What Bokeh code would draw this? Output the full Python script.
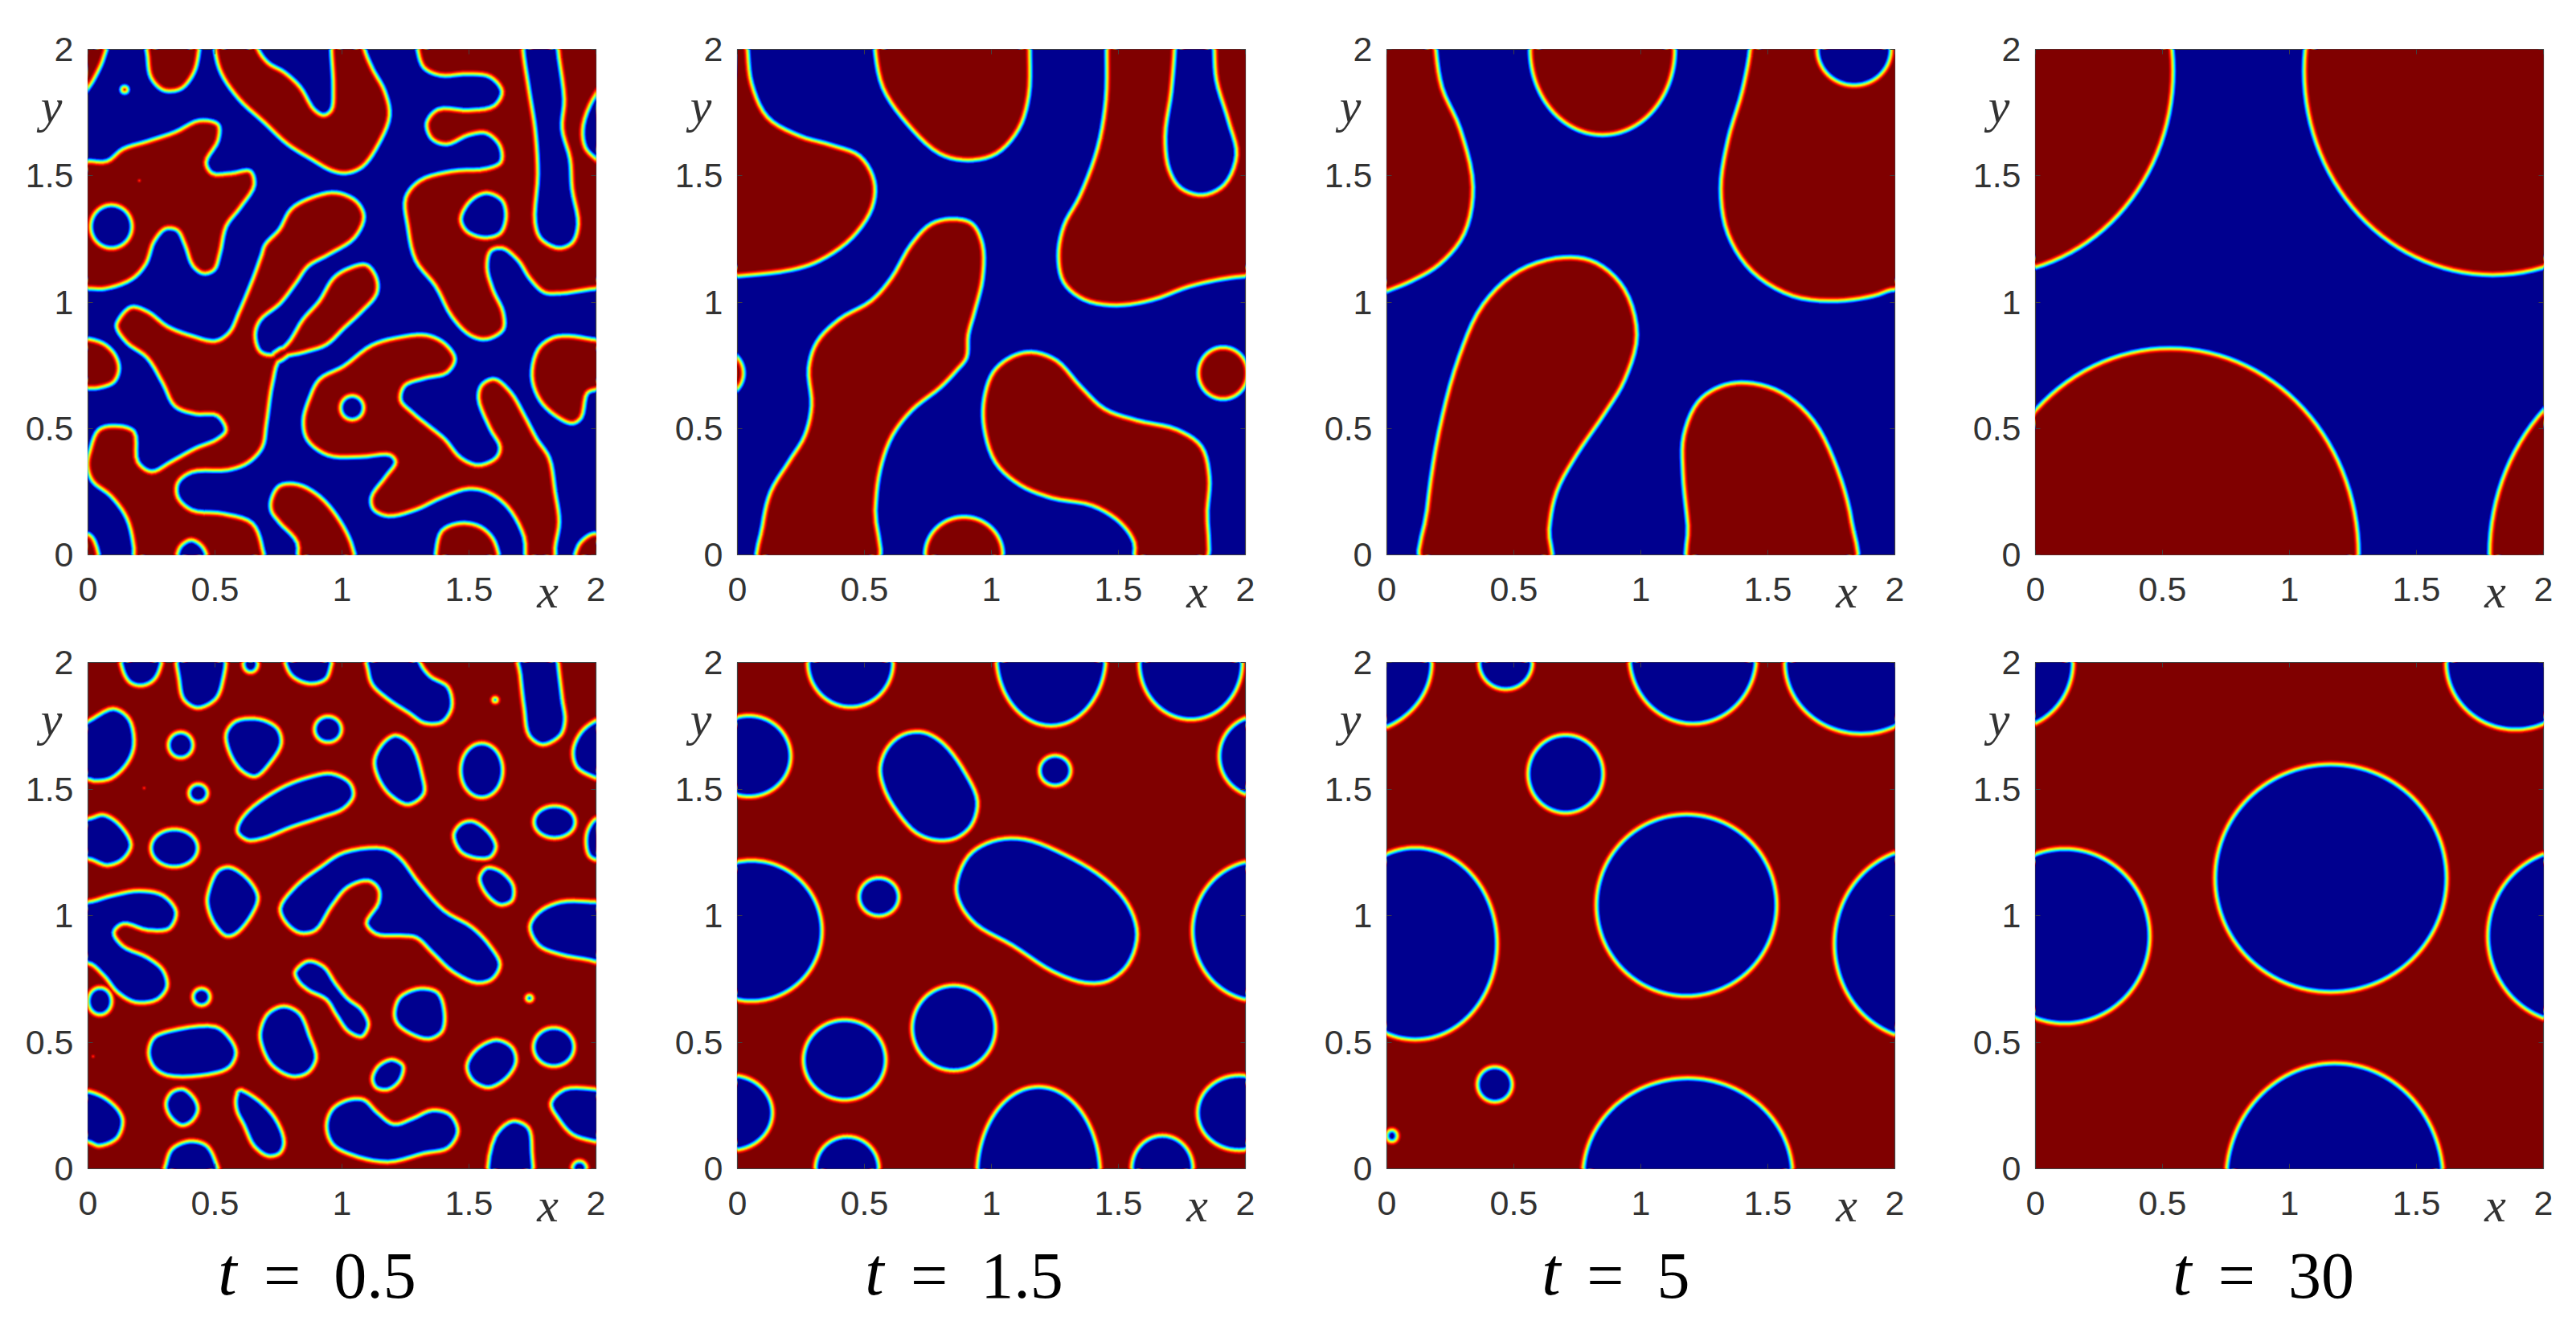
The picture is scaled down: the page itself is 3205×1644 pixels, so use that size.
from bokeh.embed import file_html
from bokeh.layouts import column, row
from bokeh.models import FixedTicker, LinearAxis
from bokeh.plotting import figure
from bokeh.resources import INLINE
import numpy as np

# ------- values (domain units, 0..2 on both axes) -------
TICKS = [0, 0.5, 1, 1.5, 2]
TICK_LABELS = ["0", "0.5", "1", "1.5", "2"]
TIMES = ["0.5", "1.5", "5", "30"]

# t = 0.5, upper row: red domains, blue holes
A_RED = [
 [(-.06,2.06),(.075,2.06),(.06,1.97),(.03,1.9),(0,1.85),(-.06,1.78)],
 [(.237,2.06),(.237,1.97),(.25,1.89),(.29,1.845),(.325,1.837),(.37,1.85),(.415,1.91),(.434,1.99),(.434,2.06)],
 [(.502,2.06),(.502,2.0),(.526,1.908),(.597,1.804),(.692,1.716),(.787,1.627),(.882,1.567),(.96,1.523),(1.016,1.513),(1.079,1.538),(1.142,1.627),(1.185,1.738),(1.166,1.834),(1.118,1.923),(1.087,2.0),(1.08,2.06),(.96,2.06),(.96,2.0),(.968,1.849),(.96,1.76),(.929,1.738),(.889,1.76),(.834,1.849),(.771,1.908),(.708,1.945),(.668,2.0),(.66,2.06)],
 [(1.295,2.06),(1.30,2.0),(1.324,1.93),(1.387,1.90),(1.498,1.905),(1.585,1.893),(1.632,1.834),(1.6,1.775),(1.498,1.757),(1.379,1.76),(1.336,1.708),(1.355,1.649),(1.411,1.627),(1.498,1.664),(1.569,1.671),(1.624,1.619),(1.627,1.553),(1.569,1.526),(1.434,1.516),(1.308,1.479),(1.253,1.412),(1.261,1.301),(1.292,1.167),(1.371,1.064),(1.434,.945),(1.506,.871),(1.569,.856),(1.632,.893),(1.632,.96),(1.592,1.049),(1.569,1.138),(1.584,1.204),(1.632,1.216),(1.695,1.167),(1.743,1.093),(1.798,1.041),(1.861,1.037),(2.0,1.056),(2.06,1.056),(2.06,2.06)],
 [(0,1.556),(.076,1.556),(.139,1.604),(.234,1.634),(.344,1.671),(.439,1.716),(.51,1.701),(.51,1.641),(.463,1.553),(.488,1.508),(.566,1.508),(.637,1.516),(.652,1.464),(.597,1.375),(.542,1.301),(.518,1.197),(.495,1.13),(.455,1.116),(.415,1.145),(.384,1.227),(.353,1.286),(.305,1.293),(.258,1.241),(.226,1.153),(.171,1.093),(.068,1.056),(0,1.056),(-.06,1.056),(-.06,1.556)],
 [(.123,.93),(.171,.978),(.234,.96),(.313,.901),(.408,.864),(.502,.844),(.558,.879),(.597,.96),(.652,1.093),(.684,1.182),(.7,1.227),(.755,1.286),(.802,1.367),(.882,1.412),(.976,1.431),(1.055,1.397),(1.084,1.338),(1.047,1.256),(.945,1.19),(.866,1.145),(.818,1.079),(.755,.997),(.676,.93),(.656,.871),(.676,.804),(.723,.79),(.787,.834),(.848,.93),(.913,1.004),(.968,1.093),(1.024,1.13),(1.095,1.145),(1.134,1.093),(1.134,1.034),(1.071,.96),(1.008,.901),(.937,.834),(.85,.804),(.755,.775),(.724,.679),(.7,.516),(.684,.427),(.629,.367),(.55,.338),(.408,.33),(.352,.286),(.352,.227),(.408,.175),(.534,.16),(.645,.123),(.684,.027),(.687,-.06),(.186,-.06),(.183,.027),(.155,.145),(.092,.234),(.02,.293),(.0,.353),(.01,.412),(.044,.493),(.107,.508),(.179,.486),(.194,.367),(.25,.327),(.329,.367),(.423,.419),(.51,.456),(.545,.493),(.51,.553),(.423,.56),(.344,.59),(.297,.679),(.234,.782),(.155,.841),(.115,.901)],
 [(-.06,.845),(.044,.841),(.1,.797),(.12,.738),(.1,.686),(.044,.664),(0,.661),(-.06,.66)],
 [(.724,.219),(.755,.271),(.826,.276),(.913,.227),(.992,.13),(1.04,.027),(1.047,-.06),(.834,-.06),(.826,.049),(.755,.13),(.724,.175)],
 [(1.332,.867),(1.403,.834),(1.442,.775),(1.411,.723),(1.324,.701),(1.245,.671),(1.229,.612),(1.277,.56),(1.34,.508),(1.403,.456),(1.466,.382),(1.537,.353),(1.608,.382),(1.624,.427),(1.585,.501),(1.54,.619),(1.553,.671),(1.6,.693),(1.663,.641),(1.719,.545),(1.766,.456),(1.814,.382),(1.837,.249),(1.853,.13),(1.837,.027),(1.837,-.06),(1.735,-.06),(1.719,.071),(1.655,.19),(1.577,.249),(1.498,.264),(1.387,.227),(1.292,.182),(1.182,.156),(1.126,.182),(1.118,.227),(1.174,.308),(1.213,.367),(1.19,.397),(1.071,.39),(.945,.397),(.866,.456),(.85,.53),(.874,.619),(.913,.693),(1.008,.745),(1.118,.827),(1.229,.859)],
 [(1.893,.864),(2.0,.849),(2.06,.85),(2.06,.66),(2.0,.656),(1.964,.641),(1.94,.545),(1.908,.523),(1.853,.545),(1.782,.612),(1.75,.708),(1.774,.812),(1.829,.856)],
 [(1.37,-.06),(1.371,0),(1.395,.093),(1.466,.123),(1.545,.108),(1.6,.049),(1.608,-.06)],
 [(1.919,-.06),(1.932,.034),(1.972,.074),(2,.083),(2.06,.085),(2.06,-.06)],
 [(-.06,.085),(0,.08),(.025,.05),(.045,-.06)],
]
A_BLUE = [
 [(1.711,2.06),(1.711,2.0),(1.735,1.834),(1.758,1.686),(1.769,1.508),(1.758,1.316),(1.782,1.249),(1.853,1.212),(1.908,1.234),(1.932,1.308),(1.908,1.449),(1.9,1.567),(1.869,1.686),(1.877,1.804),(1.853,2.0),(1.853,2.06)],
 [(1.466,1.33),(1.506,1.404),(1.569,1.434),(1.632,1.404),(1.648,1.338),(1.624,1.271),(1.561,1.253),(1.49,1.279)],
 [(2.06,1.89),(2.0,1.827),(1.948,1.701),(1.956,1.612),(2.0,1.564),(2.06,1.52)],
 [(.352,-.06),(.355,.02),(.38,.05),(.408,.06),(.44,.045),(.465,.01),(.47,-.06)],
]
A_BLUE_ROUND = [(.092,1.299,.083,.087),(1.04,.582,.047,.049)]
A_SPOTS = [(.144,1.841,8,"blue"),(.202,1.481,3,"red")]

# t = 0.5, lower row: blue domains
B_BLUE = [
 [(.13,2.06),(.135,1.97),(.165,1.92),(.21,1.907),(.255,1.925),(.283,1.97),(.29,2.06)],
 [(.355,2.06),(.357,1.93),(.376,1.852),(.431,1.819),(.502,1.852),(.531,1.919),(.534,2.06)],
 [(.773,2.06),(.785,1.97),(.818,1.933),(.881,1.914),(.937,1.933),(.957,1.98),(.96,2.06)],
 [(1.093,2.06),(1.1,1.97),(1.118,1.911),(1.182,1.852),(1.261,1.8),(1.324,1.759),(1.395,1.763),(1.434,1.822),(1.419,1.904),(1.348,1.948),(1.31,2.0),(1.3,2.06)],
 [(1.69,2.06),(1.7,1.95),(1.715,1.82),(1.735,1.711),(1.79,1.674),(1.861,1.711),(1.88,1.77),(1.869,1.859),(1.853,2.0),(1.85,2.06)],
 [(0,1.77),(.1,1.819),(.163,1.778),(.183,1.674),(.155,1.6),(.092,1.541),(.028,1.53),(0,1.536),(-.06,1.52),(-.06,1.74)],
 [(2.06,1.79),(2,1.773),(1.94,1.726),(1.908,1.652),(1.924,1.585),(2,1.541),(2.06,1.52)],
 [(.542,1.719),(.581,1.77),(.676,1.778),(.747,1.741),(.763,1.681),(.723,1.607),(.66,1.548),(.605,1.57),(.558,1.637)],
 [(1.126,1.615),(1.166,1.689),(1.213,1.714),(1.276,1.674),(1.316,1.563),(1.324,1.481),(1.261,1.437),(1.19,1.474),(1.142,1.541)],
 [(.589,1.356),(.629,1.415),(.755,1.504),(.866,1.548),(.96,1.563),(1.032,1.526),(1.047,1.474),(1.008,1.422),(.913,1.385),(.802,1.348),(.692,1.304),(.629,1.296),(.589,1.326)],
 [(0,1.385),(.06,1.4),(.123,1.363),(.171,1.281),(.139,1.222),(.076,1.197),(0,1.222),(-.06,1.21),(-.06,1.39)],
 [(1.438,1.319),(1.466,1.363),(1.513,1.375),(1.577,1.333),(1.608,1.274),(1.585,1.23),(1.529,1.225),(1.466,1.252)],
 [(2.06,1.39),(2,1.385),(1.967,1.341),(1.959,1.289),(1.971,1.237),(2,1.218),(2.06,1.21)],
 [(1.54,1.148),(1.569,1.19),(1.624,1.178),(1.676,1.119),(1.671,1.059),(1.624,1.041),(1.569,1.081)],
 [(.471,1.089),(.51,1.178),(.558,1.193),(.629,1.148),(.671,1.074),(.645,1.0),(.581,.926),(.542,.919),(.494,.97),(.468,1.044)],
 [(.755,1.03),(.818,1.119),(.913,1.193),(1.008,1.252),(1.166,1.267),(1.229,1.23),(1.308,1.126),(1.403,1.022),(1.513,.956),(1.585,.881),(1.624,.807),(1.592,.748),(1.529,.733),(1.434,.778),(1.355,.852),(1.292,.911),(1.229,.919),(1.134,.926),(1.095,.97),(1.142,1.052),(1.142,1.104),(1.103,1.136),(1.024,1.111),(.961,1.037),(.897,.941),(.834,.93),(.779,.97)],
 [(0,1.056),(.092,1.081),(.202,1.1),(.297,1.081),(.349,1.015),(.321,.948),(.234,.941),(.139,.966),(.104,.933),(.139,.881),(.234,.837),(.297,.785),(.313,.719),(.273,.667),(.186,.656),(.115,.696),(.06,.763),(0,.81),(-.06,.78),(-.06,1.06)],
 [(2.06,1.056),(2,1.056),(1.861,1.056),(1.774,1.015),(1.738,.956),(1.774,.881),(1.861,.844),(2,.815),(2.06,.78)],
 [(.814,.778),(.866,.822),(.929,.8),(.976,.733),(1.024,.674),(1.079,.63),(1.106,.57),(1.079,.521),(1.024,.541),(.976,.607),(.937,.667),(.866,.704),(.826,.741)],
 [(1.205,.622),(1.229,.681),(1.308,.714),(1.379,.696),(1.406,.615),(1.395,.541),(1.34,.511),(1.253,.541),(1.213,.578)],
 [(.237,.459),(.258,.519),(.329,.548),(.502,.563),(.558,.519),(.585,.459),(.558,.4),(.471,.37),(.313,.367),(.258,.4)],
 [(.676,.541),(.708,.615),(.771,.644),(.834,.615),(.874,.526),(.9,.437),(.866,.378),(.803,.363),(.724,.407),(.684,.481)],
 [(1.49,.407),(1.529,.474),(1.608,.511),(1.671,.481),(1.687,.422),(1.648,.356),(1.577,.319),(1.513,.348)],
 [(1.118,.356),(1.142,.407),(1.197,.433),(1.242,.407),(1.229,.348),(1.182,.311),(1.134,.319)],
 [(0,.308),(.068,.281),(.123,.23),(.139,.185),(.115,.119),(.044,.089),(0,.104),(-.06,.1),(-.06,.31)],
 [(.305,.259),(.329,.304),(.376,.316),(.423,.274),(.434,.23),(.408,.185),(.368,.17),(.321,.207)],
 [(.581,.281),(.597,.311),(.66,.281),(.739,.2),(.774,.104),(.755,.059),(.708,.049),(.652,.089),(.613,.17),(.584,.23)],
 [(.937,.17),(.961,.237),(1.024,.274),(1.087,.274),(1.142,.222),(1.205,.178),(1.276,.2),(1.355,.233),(1.427,.215),(1.458,.148),(1.419,.081),(1.324,.059),(1.182,.025),(1.04,.052),(.961,.096)],
 [(.295,-.06),(.305,.02),(.33,.08),(.4,.111),(.465,.095),(.5,.04),(.515,-.06)],
 [(1.585,-.06),(1.6,.126),(1.671,.19),(1.735,.163),(1.75,.067),(1.742,-.06)],
 [(2.06,.31),(2,.316),(1.877,.316),(1.821,.259),(1.853,.193),(1.908,.133),(2,.104),(2.06,.09)],
]
B_BLUE_ROUND = [(.365,1.674,.05,.052),(.945,1.736,.055,.053),(1.55,1.574,.085,.109),(.434,1.484,.038,.037),
                (.34,1.267,.094,.076),(1.837,1.37,.083,.065),(.447,.679,.035,.035),(.047,.662,.048,.055),
                (2.01,.607,.015,.04),(1.834,.481,.082,.078),(.64,1.995,.03,.035),(1.935,0,.03,.032)]
B_SPOTS = [(1.603,1.852,8,"red"),(1.738,.674,9,"red"),(.221,1.504,3,"red"),(.02,.444,3,"red")]

# t = 1.5, upper row
C_RED = [
 [(.038,2.0),(.054,1.864),(.117,1.73),(.243,1.656),(.37,1.619),(.481,1.575),(.536,1.479),(.528,1.375),(.449,1.256),(.323,1.167),(.212,1.13),(0,1.105),(-.06,1.1),(-.06,2.06),(.035,2.06)],
 [(.544,2.06),(.544,2),(.575,1.849),(.67,1.708),(.797,1.59),(.907,1.564),(1.018,1.59),(1.105,1.686),(1.145,1.819),(1.149,2.0),(1.149,2.06)],
 [(1.456,2.0),(1.453,1.804),(1.421,1.612),(1.35,1.419),(1.287,1.301),(1.266,1.182),(1.287,1.079),(1.366,1.012),(1.493,.99),(1.635,1.012),(1.777,1.064),(1.904,1.093),(1.998,1.105),(2.06,1.105),(2.06,2.06),(1.456,2.06)],
 [(.852,1.327),(.923,1.308),(.963,1.227),(.963,1.093),(.931,.96),(.907,.871),(.9,.782),(.86,.73),(.797,.664),(.686,.575),(.607,.471),(.56,.338),(.541,.175),(.544,-.06),(.09,-.06),(.101,.116),(.133,.249),(.204,.367),(.267,.471),(.294,.59),(.283,.738),(.315,.841),(.402,.93),(.528,1.004),(.607,1.093),(.686,1.227),(.765,1.308)],
 [(1.16,.8),(1.255,.767),(1.35,.664),(1.445,.575),(1.572,.53),(1.73,.493),(1.825,.427),(1.856,.308),(1.848,.175),(1.832,-.06),(1.572,-.06),(1.564,.049),(1.508,.13),(1.398,.197),(1.24,.227),(1.113,.279),(1.018,.367),(.974,.501),(.974,.619),(1.01,.723),(1.081,.782)],
]
C_RED_ROUND = [(1.912,.719,.095,.1),(-.088,.719,.11,.1),(.892,0,.151,.148)]
C_BLUE = [
 [(1.719,2.06),(1.719,2.0),(1.706,1.834),(1.682,1.656),(1.698,1.523),(1.745,1.449),(1.832,1.422),(1.919,1.464),(1.967,1.582),(1.936,1.716),(1.888,1.879),(1.88,2.0),(1.88,2.06)],
]

# t = 1.5, lower row
D_BLUE = [
 [(.56,1.585),(.591,1.667),(.655,1.719),(.734,1.726),(.813,1.681),(.9,1.563),(.947,1.452),(.923,1.356),(.86,1.304),(.781,1.296),(.702,1.326),(.623,1.415),(.575,1.504)],
 [(.86,1.119),(.908,1.237),(1.002,1.296),(1.129,1.304),(1.287,1.244),(1.445,1.148),(1.54,1.044),(1.576,.926),(1.54,.807),(1.461,.741),(1.366,.733),(1.24,.778),(1.081,.881),(.939,.963),(.876,1.044)],
]
D_BLUE_ROUND = [(.045,1.63,.167,.162),(2.055,1.63,.16,.162),(1.251,1.573,.063,.061),(.055,.94,.28,.28),
                (2.055,.94,.265,.28),(.557,1.074,.08,.077),(.852,.556,.166,.17),(.422,.43,.164,.16),
                (-.025,.221,.165,.15),(1.975,.221,.165,.15),
                (.445,2.0,.17,.178),(1.235,2.03,.218,.282),(1.785,2.0,.205,.227),
                (1.186,-.03,.245,.356),(.432,0,.127,.129),(1.673,0,.123,.133)]

# t = 5, upper row
E_RED = [
 [(.191,2),(.215,1.849),(.286,1.686),(.337,1.456),(.302,1.271),(.207,1.153),(.096,1.086),(0,1.046),(-.06,1.02),(-.06,2.06),(.19,2.06)],
 [(1.432,2),(1.401,1.834),(1.345,1.641),(1.317,1.449),(1.345,1.271),(1.44,1.123),(1.598,1.027),(1.772,1.007),(1.915,1.027),(2,1.052),(2.06,1.03),(2.06,2.06),(1.432,2.06)],
 [(.697,1.175),(.824,1.153),(.934,1.049),(.982,.871),(.934,.693),(.855,.56),(.745,.397),(.666,.249),(.637,.101),(.637,-.06),(.144,-.06),(.16,.175),(.207,.486),(.286,.782),(.381,.99),(.523,1.123)],
 [(1.417,.679),(1.551,.641),(1.677,.53),(1.772,.338),(1.828,.13),(1.836,-.06),(1.2,-.06),(1.187,.116),(1.168,.323),(1.171,.471),(1.227,.604),(1.314,.664)],
]
E_RED_ROUND = [(.849,2.0,.283,.336)]
E_BLUE_ROUND = [(1.84,2.0,.147,.144)]

# t = 5, lower row
F_BLUE_ROUND = [(.704,1.56,.15,.156),(1.18,1.041,.357,.361),(.112,.889,.324,.381),(2.112,.889,.352,.381),
                (.425,.333,.07,.071),(.02,.13,.022,.024),(2.02,.13,.022,.024),
                (.468,2.0,.107,.108),(1.205,2.026,.252,.27),(1.867,2.0,.302,.284),(-.133,2.0,.312,.284),
                (1.185,-.03,.415,.39)]

# t = 30, upper row
G_RED_ROUND = [(1.8,1.915,.74,.805),(-.2,1.915,.74,.805),(.53,0,.74,.815),(2.53,0,.74,.815)]

# t = 30, lower row
H_BLUE_ROUND = [(1.163,1.148,.458,.452),(.115,.919,.337,.347),(2.115,.919,.336,.347),
                (1.89,2.0,.275,.267),(-.11,2.0,.26,.267),(1.178,-.05,.43,.469)]

# ------- styling -------
RED, BLUE = "#800000", "#00008f"
JET = ["#a00000", "#d80000", "#ff2000", "#ff8000", "#ffd800", "#c8ff38", "#50ffb0", "#00d8ff", "#0070ff", "#0010e0"]
STEP_PX = 1.0
INSET = len(JET) * STEP_PX / 2 / 316.0  # half interface width, in domain units
TEXT = "#333333"
SANS, SERIF = "Liberation Sans", "Liberation Serif"

PANELS = [
 [dict(bg=BLUE, groups=[(RED, A_RED, []), (BLUE, A_BLUE, A_BLUE_ROUND)], spots=A_SPOTS),
  dict(bg=BLUE, groups=[(RED, C_RED, C_RED_ROUND), (BLUE, C_BLUE, [])], spots=[]),
  dict(bg=BLUE, groups=[(RED, E_RED, E_RED_ROUND), (BLUE, [], E_BLUE_ROUND)], spots=[]),
  dict(bg=BLUE, groups=[(RED, [], G_RED_ROUND)], spots=[])],
 [dict(bg=RED, groups=[(BLUE, B_BLUE, B_BLUE_ROUND)], spots=B_SPOTS),
  dict(bg=RED, groups=[(BLUE, D_BLUE, D_BLUE_ROUND)], spots=[]),
  dict(bg=RED, groups=[(BLUE, [], F_BLUE_ROUND)], spots=[]),
  dict(bg=RED, groups=[(BLUE, [], H_BLUE_ROUND)], spots=[])],
]
LEFT_BORDER = 109
RIGHT_BORDER = [67, 67, 66, 30]
ROW_GEOM = [dict(top=61, h=629, bottom=81), dict(top=53, h=630, bottom=170)]
T_X = [(.549, .992), (.539, .982), (.647, .99), (.577, .987)]


def smooth(points, sub=5):
    P = np.array(points, float)
    n = len(P)
    out = []
    for i in range(n):
        p0, p1, p2, p3 = P[(i - 1) % n], P[i], P[(i + 1) % n], P[(i + 2) % n]
        t0 = 0.0
        t1 = t0 + max(np.linalg.norm(p1 - p0), 1e-6) ** .5
        t2 = t1 + max(np.linalg.norm(p2 - p1), 1e-6) ** .5
        t3 = t2 + max(np.linalg.norm(p3 - p2), 1e-6) ** .5
        for t in np.linspace(t1, t2, sub, endpoint=False):
            a1 = (t1 - t) / (t1 - t0) * p0 + (t - t0) / (t1 - t0) * p1
            a2 = (t2 - t) / (t2 - t1) * p1 + (t - t1) / (t2 - t1) * p2
            a3 = (t3 - t) / (t3 - t2) * p2 + (t - t2) / (t3 - t2) * p3
            b1 = (t2 - t) / (t2 - t0) * a1 + (t - t0) / (t2 - t0) * a2
            b2 = (t3 - t) / (t3 - t1) * a2 + (t - t1) / (t3 - t1) * a3
            out.append((t2 - t) / (t2 - t1) * b1 + (t - t1) / (t2 - t1) * b2)
    return np.array(out)


def inset(C, d):
    """Move a closed curve towards its inside by d."""
    x, y = C[:, 0], C[:, 1]
    area = 0.5 * np.sum(x * np.roll(y, -1) - np.roll(x, -1) * y)
    T = np.roll(C, -1, axis=0) - np.roll(C, 1, axis=0)
    T /= np.maximum(np.linalg.norm(T, axis=1, keepdims=True), 1e-9)
    N = np.column_stack([-T[:, 1], T[:, 0]]) * (1 if area > 0 else -1)
    return C + N * d


def outline(polys, rounds):
    xs, ys = [], []
    for pts in polys:
        C = inset(smooth(pts), INSET)
        xs.append(C[:, 0].tolist())
        ys.append(C[:, 1].tolist())
    for cx, cy, rx, ry in rounds:
        a = np.linspace(0, 2 * np.pi, 120, endpoint=False)
        xs.append((cx + max(rx - INSET, .001) * np.cos(a)).tolist())
        ys.append((cy + max(ry - INSET, .001) * np.sin(a)).tolist())
    return xs, ys


def text_axis(p, side, where, label, size, style, color, standoff):
    """An axis that only carries one text, so that it may lie outside the frame."""
    ax = LinearAxis(ticker=FixedTicker(ticks=[where]), major_label_overrides={where: label},
                    major_label_text_font=SERIF, major_label_text_font_style=style,
                    major_label_text_font_size=size, major_label_text_color=color,
                    major_label_standoff=standoff, major_tick_line_color=None,
                    minor_tick_line_color=None, axis_line_color=None)
    p.add_layout(ax, side)


def panel(r, c):
    g = ROW_GEOM[r]
    spec = PANELS[r][c]
    p = figure(frame_width=632, frame_height=g["h"], x_range=(0, 2), y_range=(0, 2),
               min_border_left=LEFT_BORDER, min_border_right=RIGHT_BORDER[c],
               min_border_top=g["top"], min_border_bottom=g["bottom"],
               output_backend="svg", toolbar_location=None, tools="")
    p.background_fill_color = spec["bg"]
    p.border_fill_color = "white"
    p.grid.visible = False
    p.outline_line_color = "#404040"
    p.outline_line_width = 1.2

    overrides = dict(zip(TICKS, TICK_LABELS))
    for ax, standoff in ((p.xaxis[0], 28), (p.yaxis[0], 18)):
        ax.ticker = FixedTicker(ticks=TICKS)
        ax.major_label_overrides = overrides
        ax.major_label_text_font = SANS
        ax.major_label_text_font_size = "43px"
        ax.major_label_text_color = TEXT
        ax.major_label_standoff = standoff
        ax.major_tick_in, ax.major_tick_out = 6, 0
        ax.major_tick_line_color = "#404040"
        ax.minor_tick_line_color = None
        ax.axis_line_color = None
    for side in ("above", "right"):
        ax = LinearAxis(ticker=FixedTicker(ticks=TICKS), major_label_overrides={k: "" for k in TICKS},
                        major_label_text_font_size="0px", major_label_standoff=0,
                        major_tick_in=6, major_tick_out=0, major_tick_line_color="#404040",
                        minor_tick_line_color=None, axis_line_color=None)
        p.add_layout(ax, side)

    for fg, polys, rounds in spec["groups"]:
        xs, ys = outline(polys, rounds)
        levels = JET if fg == BLUE else JET[::-1]
        for k, col in enumerate(levels):
            p.patches(xs, ys, fill_alpha=0, line_color=col, line_join="round",
                      line_width=(len(levels) - k) * 2 * STEP_PX)
        p.patches(xs, ys, fill_color=fg, line_alpha=0)

    for x, y, n, side in spec["spots"]:
        levels = JET if side == "red" else JET[::-1]
        for k in range(n):
            p.scatter([x], [y], size=(n - k) * 2 * STEP_PX, color=levels[k], line_alpha=0)

    text_axis(p, "below", 1.81, "x", "60px", "italic", TEXT, -54)
    text_axis(p, "left", 1.775, "y", "60px", "italic", TEXT, -55)
    if r == 1:
        tx, eqx = T_X[c]
        text_axis(p, "below", tx, "t", "84px", "italic", "black", -6)
        text_axis(p, "below", eqx, "=\u2002" + TIMES[c], "82px", "normal", "black", -96)
    return p


page = column(*[row(*[panel(r, c) for c in range(4)]) for r in range(2)])
open("out.html", "w").write(file_html(page, INLINE))
